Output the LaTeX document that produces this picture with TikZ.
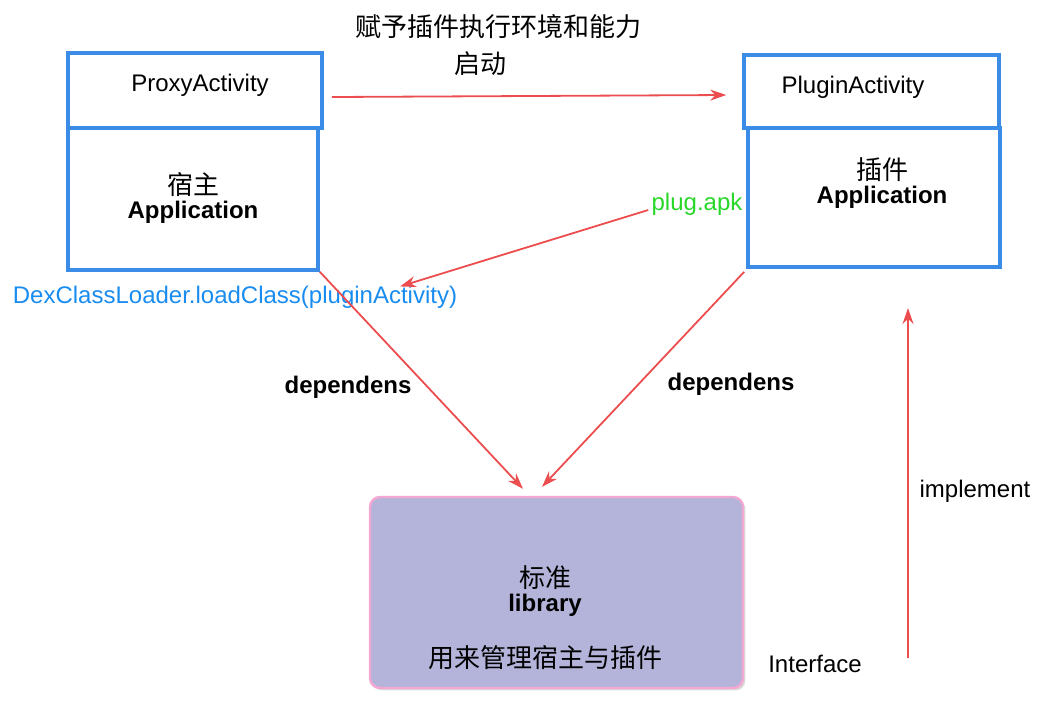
\documentclass[tikz,border=0pt]{standalone}
\usepackage{fontspec}
\setmainfont{Liberation Sans}
\newfontfamily\cjk{Noto Sans CJK SC}
\usepackage{tikz}
\usetikzlibrary{arrows.meta}
\usetikzlibrary{positioning}
\usetikzlibrary{calc}
\usetikzlibrary{shadows}
\definecolor{boxblue}{RGB}{58,140,230}
\definecolor{arrowred}{RGB}{236,78,80}
\definecolor{apkgreen}{RGB}{40,215,40}
\definecolor{dexblue}{RGB}{25,140,240}
\definecolor{libfill}{RGB}{180,180,219}
\definecolor{libpink}{RGB}{242,168,210}
\newcommand{\bnode}[4]{\node(#1)[box, minimum width=#3, minimum height=#4] at #2 {}}
\newcommand{\znode}[3]{\node(#1)[zh] at #2 {#3}}

\begin{document}
\begin{tikzpicture}[
        x=0.5pt, y=-0.5pt,
        every node/.style={font=\fontsize{12}{14}\selectfont, inner sep=0pt},
        box/.style={rectangle, draw=boxblue, line width=1.8pt, fill=white,
                    drop shadow={opacity=0.15, shadow xshift=1pt, shadow yshift=-1pt}},
        libbox/.style={rectangle, rounded corners=5pt, draw=libpink, line width=1.2pt,
                       fill=libfill, minimum width=186.5pt, minimum height=95.5pt,
                       drop shadow={opacity=0.3, shadow xshift=1.2pt, shadow yshift=-1.2pt}},
        zh/.style={font=\cjk\fontsize{13}{15}\selectfont},
        bold/.style={font=\bfseries\fontsize{12}{14}\selectfont},
        dep/.style={draw=arrowred, line width=0.9pt, -{Stealth[length=8pt, width=5.5pt]}}
      ]
      \useasboundingbox (0,0) rectangle (1059,725);

      \bnode{hostapp}{(193,199)}{125pt}{71pt};
      \bnode{proxy}{(195,90.5)}{127pt}{37.5pt};
      \bnode{plugapp}{(874,197.5)}{126pt}{69.5pt};
      \bnode{plugact}{(871.5,91.5)}{127.5pt}{36.5pt};
      \node(lib)[libbox] at (556.5,592.5) {};

      \node(proxytxt) at (200,85) {ProxyActivity};
      \znode{hostzh}{(193,185)}{宿主};
      \node(hostname)[bold] at (193,212) {Application};
      \node(plugacttxt) at (853,87) {PluginActivity};
      \znode{plugzh}{(882,170)}{插件};
      \node(plugname)[bold] at (882,197) {Application};

      \znode{title}{(498,27)}{赋予插件执行环境和能力};
      \znode{launch}{(480,64)}{启动};
      \node(apk)[text=apkgreen] at (697,204) {plug.apk};
      \node(dex)[text=dexblue] at (235,297) {DexClassLoader.loadClass(pluginActivity)};
      \node(depl)[bold] at (348,387) {dependens};
      \node(depr)[bold] at (731,384) {dependens};
      \node(impl) at (975,491) {implement};
      \node(ifc) at (815,664) {Interface};

      \znode{libzh}{(545,578)}{标准};
      \node(libname)[bold] at (545,605) {library};
      \znode{libdesc}{(545,658)}{用来管理宿主与插件};

      \coordinate (ifcstart) at (908,658);
      \coordinate (implend) at (908,308);

      \draw[dep] ([shift={(8,6.5)}]proxy.east) -- ([shift={(-16,3.5)}]plugact.west);
      \draw[dep] (hostapp.south east) -- ([shift={(-33.5,-7)}]lib.north);
      \draw[dep] ([shift={(-2,3)}]plugapp.south west) -- ([shift={(-14.5,-9)}]lib.north);
      \draw[dep] ([shift={(-3,6)}]apk.west) -- ([shift={(165,1)}]dex.north);
      \draw[dep] (ifcstart) -- (implend);
    \end{tikzpicture}
\end{document}
